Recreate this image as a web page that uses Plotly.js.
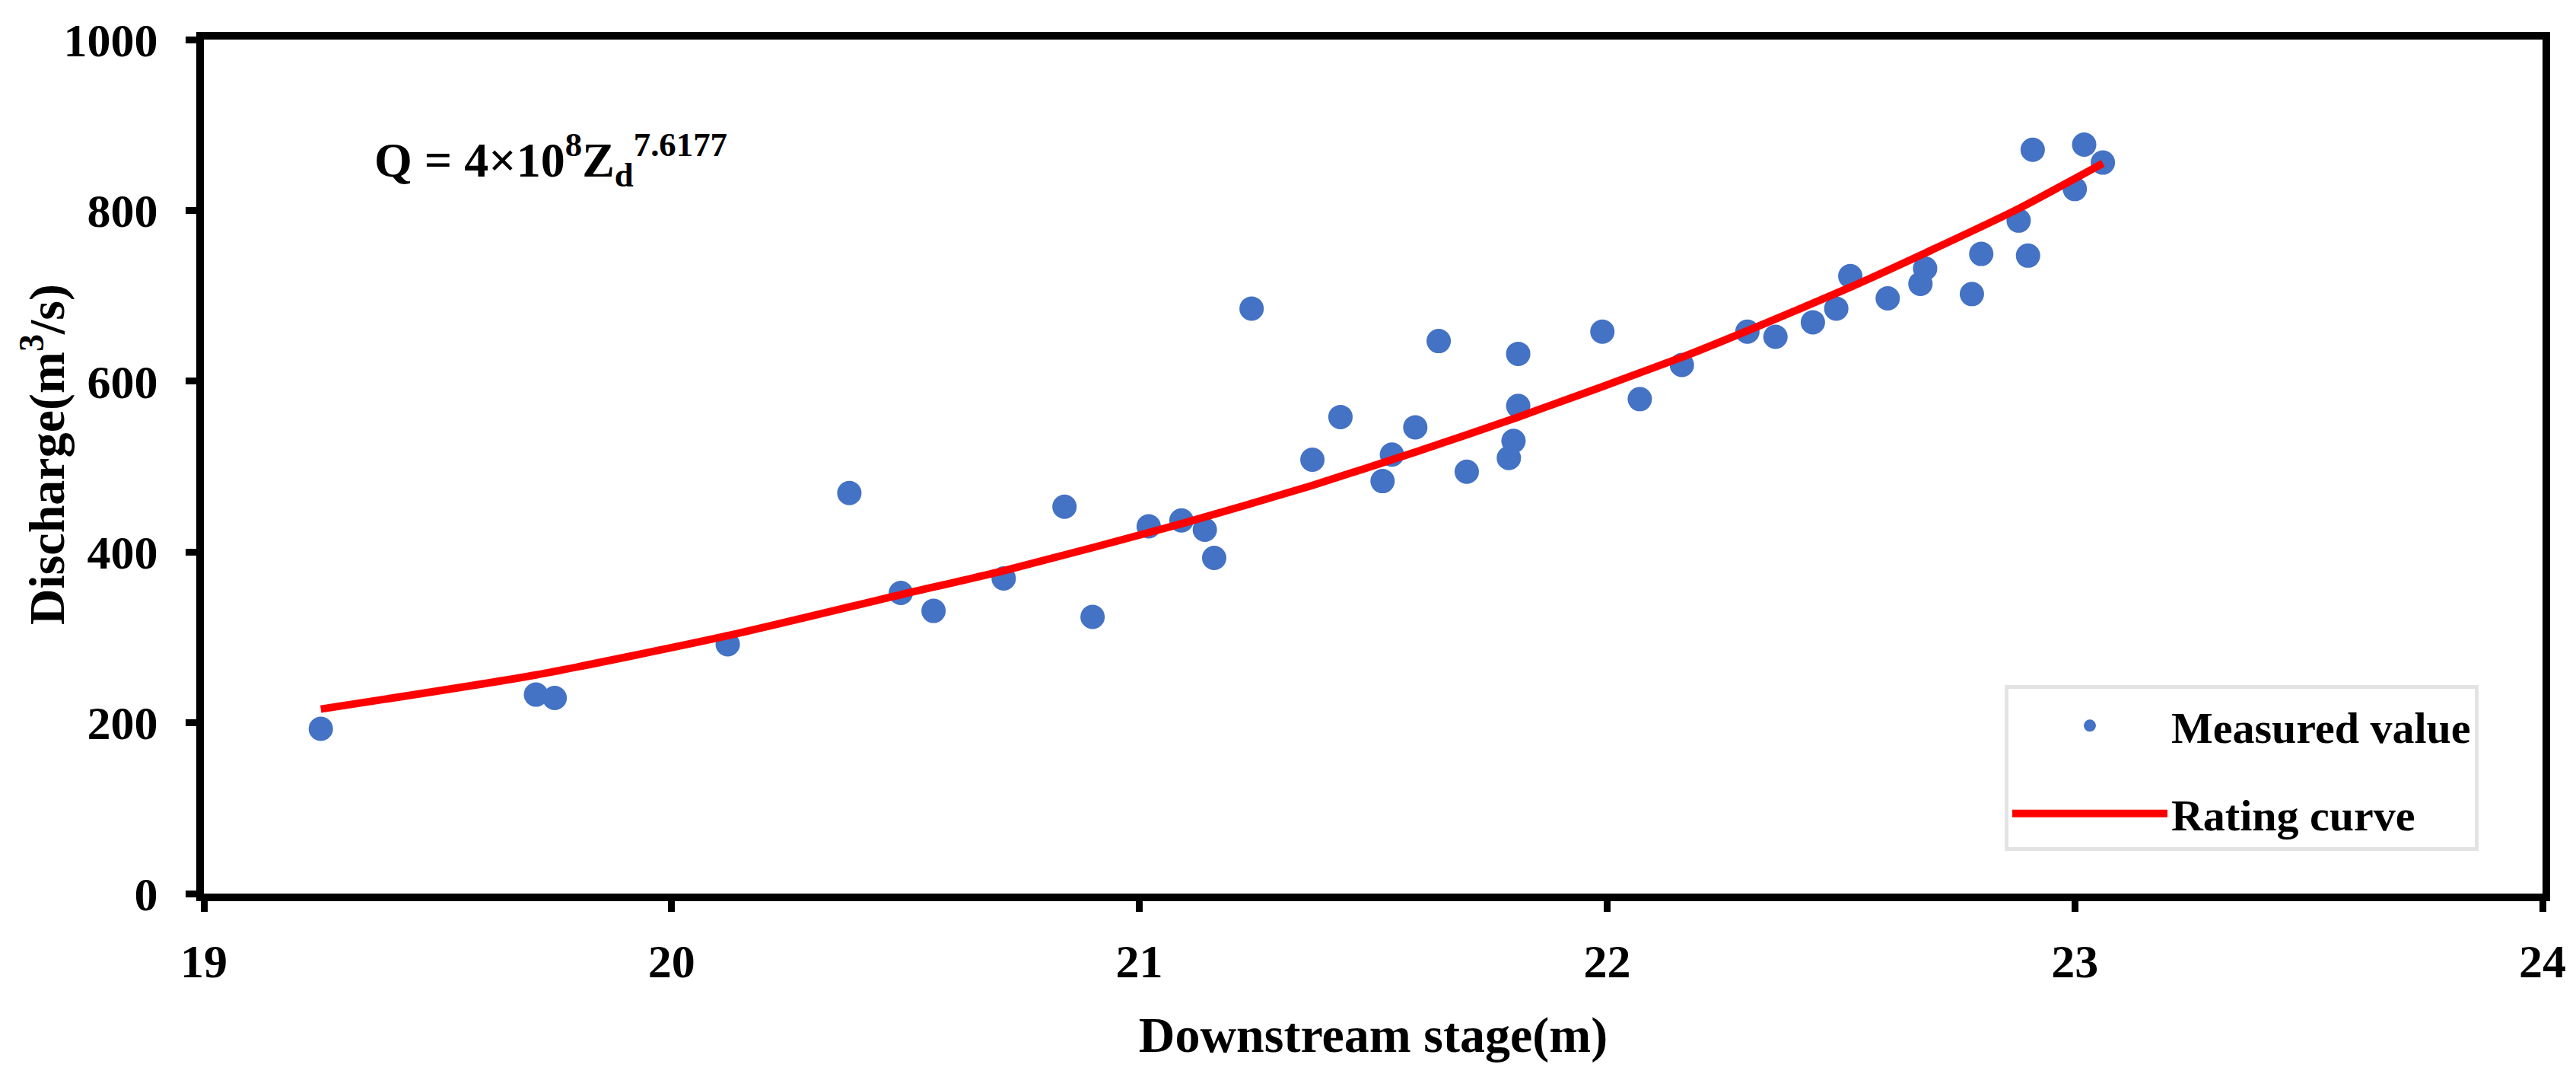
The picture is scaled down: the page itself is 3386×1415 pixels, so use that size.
<!DOCTYPE html>
<html>
<head>
<meta charset="utf-8">
<script src="https://cdn.plot.ly/plotly-3.0.1.min.js"></script>
<style>html,body{margin:0;padding:0;background:#fff;}#chart{width:3386px;height:1415px;}</style>
</head>
<body>
<div id="chart"></div>
<script>
// Measured values (downstream stage in m, discharge in m3/s)
const stageMeasured = [19.25, 19.71, 19.75, 20.12, 20.38, 20.49, 20.56, 20.71, 20.84, 20.90,
  21.02, 21.09, 21.14, 21.16, 21.24, 21.37, 21.43, 21.52, 21.54, 21.59,
  21.64, 21.70, 21.79, 21.80, 21.81, 21.81, 21.99, 22.07, 22.16, 22.30,
  22.36, 22.44, 22.49, 22.52, 22.60, 22.67, 22.68, 22.78, 22.80, 22.88,
  22.90, 22.91, 23.00, 23.02, 23.06];
const dischargeMeasured = [193, 233, 229, 292, 469, 352, 331, 369, 453, 324,
  430, 437, 426, 393, 685, 508, 558, 483, 514, 546,
  647, 494, 510, 530, 571, 632, 658, 579, 619, 658,
  652, 669, 685, 723, 697, 714, 732, 702, 749, 788,
  747, 871, 825, 877, 856];
// Rating curve
const stageCurve = [19.25, 19.71, 20.12, 20.49, 20.71, 21.09, 21.37, 21.59, 21.81, 22.16, 22.30, 22.52, 22.68, 22.88, 23.06];
const dischargeCurve = [216, 256, 302, 350, 378, 433, 478, 517, 558, 628, 659, 710, 750, 802, 855];
const xTicks = [19, 20, 21, 22, 23, 24];
const yTicks = [0, 200, 400, 600, 800, 1000];

const FONT = 'Liberation Serif, Times New Roman, serif';

const traces = [
  {
    x: stageMeasured, y: dischargeMeasured, type: 'scatter', mode: 'markers',
    name: 'Measured value', legendgroup: 'a',
    marker: {color: '#4472C4', size: 32}
  },
  {
    x: stageCurve, y: dischargeCurve, type: 'scatter', mode: 'lines',
    name: 'Rating curve', legendgroup: 'b',
    line: {color: '#FF0000', width: 10, shape: 'spline', smoothing: 0.6}
  }
];

const axisCommon = {
  showline: true, linewidth: 10, linecolor: '#000', mirror: true,
  ticks: 'outside', ticklen: 14, tickwidth: 9, tickcolor: '#000',
  showgrid: false, zeroline: false,
  tickfont: {family: FONT, size: 62, color: '#000', weight: 'bold'}
};

const layout = {
  width: 3386, height: 1415,
  paper_bgcolor: '#fff', plot_bgcolor: '#fff',
  margin: {l: 268, r: 44, t: 52, b: 241},
  showlegend: true,
  xaxis: Object.assign({}, axisCommon, {
    range: [19, 24], tickvals: xTicks, ticktext: xTicks.map(String),
    ticklabelstandoff: 12,
    title: {text: 'Downstream stage(m)', font: {family: FONT, size: 66, color: '#000', weight: 'bold'}, standoff: 43}
  }),
  yaxis: Object.assign({}, axisCommon, {
    range: [0, 1000], tickvals: yTicks, ticktext: yTicks.map(String),
    ticklabelstandoff: 24
  }),
  legend: {
    x: 0.770, y: 0.244, xanchor: 'left', yanchor: 'top',
    bgcolor: '#fff', bordercolor: '#E3E3E3', borderwidth: 5,
    font: {family: FONT, size: 58, color: '#000', weight: 'bold'},
    traceorder: 'grouped', tracegroupgap: 37, itemwidth: 204,
    title: {text: ' ', font: {family: FONT, size: 3, color: '#fff'}}
  },
  annotations: [
    {
      xref: 'paper', yref: 'paper', x: 0.0722, y: 0.859, xanchor: 'left', yanchor: 'middle',
      showarrow: false,
      text: 'Q = 4×10<sup>8</sup>Z<sub>d</sub><sup>7.6177</sup>',
      font: {family: FONT, size: 64, color: '#000', weight: 'bold'}
    },
    {
      xref: 'paper', yref: 'paper', x: -0.0683, y: 0.514, xanchor: 'center', yanchor: 'middle',
      textangle: -90, showarrow: false,
      text: 'Discharge(m<sup>3</sup>/s)',
      font: {family: FONT, size: 66, color: '#000', weight: 'bold'}
    }
  ]
};

Plotly.newPlot('chart', traces, layout, {displayModeBar: false, staticPlot: true});
</script>
</body>
</html>
